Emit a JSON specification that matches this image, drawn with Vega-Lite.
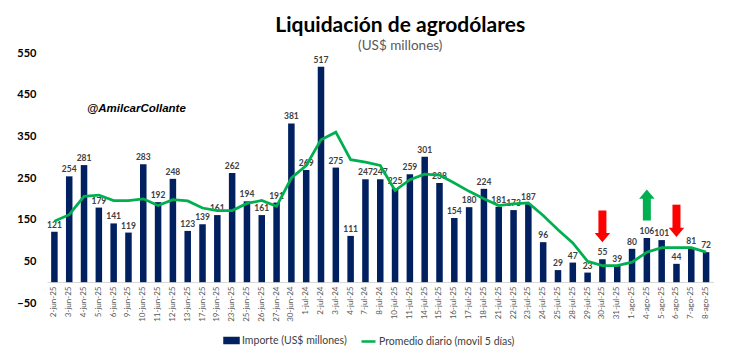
{
  "$schema": "https://vega.github.io/schema/vega-lite/v6.json",
  "width": 666.5,
  "height": 250,
  "autosize": {"type": "none"},
  "padding": {"left": 47, "top": 53, "right": 16, "bottom": 52},
  "background": "white",
  "title": {
    "text": "Liquidación de agrodólares",
    "subtitle": "(US$ millones)",
    "anchor": "middle",
    "frame": "group",
    "dx": 20,
    "offset": -5,
    "font": "Lato",
    "fontSize": 21,
    "fontWeight": "bold",
    "color": "#000000",
    "subtitleFont": "Lato",
    "subtitleFontSize": 13.5,
    "subtitleColor": "#595959",
    "subtitlePadding": 3
  },
  "data": {
    "values": [
      {"fecha": "2-jun-25", "importe": 121, "promedio": 146},
      {"fecha": "3-jun-25", "importe": 254, "promedio": 162},
      {"fecha": "4-jun-25", "importe": 281, "promedio": 206},
      {"fecha": "5-jun-25", "importe": 179, "promedio": 209},
      {"fecha": "6-jun-25", "importe": 141, "promedio": 196},
      {"fecha": "9-jun-25", "importe": 119, "promedio": 196},
      {"fecha": "10-jun-25", "importe": 283, "promedio": 200},
      {"fecha": "11-jun-25", "importe": 192, "promedio": 184},
      {"fecha": "12-jun-25", "importe": 248, "promedio": 198},
      {"fecha": "13-jun-25", "importe": 123, "promedio": 195},
      {"fecha": "17-jun-25", "importe": 139, "promedio": 178},
      {"fecha": "19-jun-25", "importe": 161, "promedio": 172},
      {"fecha": "23-jun-25", "importe": 262, "promedio": 172},
      {"fecha": "25-jun-25", "importe": 194, "promedio": 189},
      {"fecha": "26-jun-25", "importe": 161, "promedio": 196},
      {"fecha": "27-jun-24", "importe": 191, "promedio": 182},
      {"fecha": "30-jun-24", "importe": 381, "promedio": 250},
      {"fecha": "1-jul-24", "importe": 269, "promedio": 280},
      {"fecha": "2-jul-24", "importe": 517, "promedio": 342},
      {"fecha": "3-jul-24", "importe": 275, "promedio": 360},
      {"fecha": "4-jul-25", "importe": 111, "promedio": 294},
      {"fecha": "7-jul-24", "importe": 247, "promedio": 288},
      {"fecha": "8-jul-24", "importe": 247, "promedio": 280},
      {"fecha": "10-jul-25", "importe": 225, "promedio": 220},
      {"fecha": "11-jul-25", "importe": 259, "promedio": 246},
      {"fecha": "14-jul-25", "importe": 301, "promedio": 259},
      {"fecha": "15-jul-25", "importe": 238, "promedio": 257},
      {"fecha": "16-jul-25", "importe": 154, "promedio": 238},
      {"fecha": "17-jul-25", "importe": 180, "promedio": 218},
      {"fecha": "18-jul-25", "importe": 224, "promedio": 200},
      {"fecha": "21-jul-25", "importe": 181, "promedio": 184},
      {"fecha": "22-jul-25", "importe": 173, "promedio": 188},
      {"fecha": "23-jul-25", "importe": 187, "promedio": 190},
      {"fecha": "24-jul-25", "importe": 96, "promedio": 160},
      {"fecha": "25-jul-25", "importe": 29, "promedio": 126},
      {"fecha": "28-jul-25", "importe": 47, "promedio": 94},
      {"fecha": "29-jul-25", "importe": 23, "promedio": 50},
      {"fecha": "30-jul-25", "importe": 55, "promedio": 40},
      {"fecha": "31-jul-25", "importe": 39, "promedio": 40},
      {"fecha": "1-ago-25", "importe": 80, "promedio": 48},
      {"fecha": "4-ago-25", "importe": 106, "promedio": 72},
      {"fecha": "5-ago-25", "importe": 101, "promedio": 83},
      {"fecha": "6-ago-25", "importe": 44, "promedio": 83},
      {"fecha": "7-ago-25", "importe": 81, "promedio": 83},
      {"fecha": "8-ago-25", "importe": 72, "promedio": 72}
    ]
  },
  "datasets": {
    "flechas": [
      {"fecha": "30-jul-25", "tipo": "baja", "inicio": 172, "fin": 115, "cabeza": 106.8},
      {"fecha": "4-ago-25", "tipo": "sube", "inicio": 148, "fin": 202, "cabeza": 211.5},
      {"fecha": "6-ago-25", "tipo": "baja", "inicio": 186, "fin": 126, "cabeza": 119.3}
    ],
    "firma": [
      {"autor": "@AmilcarCollante"}
    ]
  },
  "encoding": {
    "x": {
      "field": "fecha",
      "type": "nominal",
      "sort": null,
      "scale": {
        "domain": ["2-jun-25","3-jun-25","4-jun-25","5-jun-25","6-jun-25","9-jun-25","10-jun-25","11-jun-25","12-jun-25","13-jun-25","17-jun-25","19-jun-25","23-jun-25","25-jun-25","26-jun-25","27-jun-24","30-jun-24","1-jul-24","2-jul-24","3-jul-24","4-jul-25","7-jul-24","8-jul-24","10-jul-25","11-jul-25","14-jul-25","15-jul-25","16-jul-25","17-jul-25","18-jul-25","21-jul-25","22-jul-25","23-jul-25","24-jul-25","25-jul-25","28-jul-25","29-jul-25","30-jul-25","31-jul-25","1-ago-25","4-ago-25","5-ago-25","6-ago-25","7-ago-25","8-ago-25"],
        "paddingInner": 0.56,
        "paddingOuter": 0.28
      },
      "axis": {
        "title": null,
        "labelAngle": -90,
        "labelFont": "Lato",
        "labelFontSize": 8,
        "labelColor": "#595959",
        "labelPadding": 4,
        "ticks": false,
        "domain": true,
        "domainColor": "#d9d9d9",
        "offset": -21,
        "grid": false
      }
    }
  },
  "layer": [
    {
      "mark": {"type": "bar"},
      "encoding": {
        "y": {
          "field": "importe",
          "type": "quantitative",
          "scale": {"domain": [-50, 550], "nice": false, "zero": false},
          "axis": {
            "title": null,
            "values": [-50, 50, 150, 250, 350, 450, 550],
            "labelFont": "Lato",
            "labelFontSize": 11,
            "labelFontWeight": "bold",
            "labelColor": "#000000",
            "labelPadding": 11,
            "ticks": false,
            "domain": false,
            "grid": false
          }
        },
        "color": {
          "datum": "Importe (US$ millones)",
          "scale": {
            "domain": ["Importe (US$ millones)", "Promedio diario (movil 5 días)"],
            "range": ["#002060", "#00B050"]
          },
          "legend": {
            "orient": "none",
            "legendX": 176,
            "legendY": 279,
            "direction": "horizontal",
            "title": null,
            "symbolSize": 196,
            "labelFont": "Lato",
            "labelFontSize": 10.5,
            "labelColor": "#404040",
            "labelOffset": 2,
            "columnPadding": 9,
            "encode": {
              "symbols": {
                "update": {
                  "shape": {"signal": "datum.value == 'Importe (US$ millones)' ? 'M-1,-0.35H1V0.35H-1Z' : 'M-1,0H1'"},
                  "fill": {"signal": "datum.value == 'Importe (US$ millones)' ? '#002060' : 'transparent'"},
                  "stroke": {"signal": "datum.value == 'Importe (US$ millones)' ? 'transparent' : '#00B050'"},
                  "strokeWidth": {"value": 2.5},
                  "opacity": {"value": 1}
                }
              }
            }
          }
        }
      }
    },
    {
      "mark": {"type": "text", "font": "Lato", "fontSize": 8.5, "fontWeight": "bold", "color": "#404040", "baseline": "alphabetic", "dy": -4},
      "encoding": {
        "y": {"field": "importe", "type": "quantitative"},
        "text": {"field": "importe", "type": "quantitative"}
      }
    },
    {
      "mark": {"type": "line", "strokeWidth": 2.75},
      "encoding": {
        "y": {"field": "promedio", "type": "quantitative"},
        "color": {"datum": "Promedio diario (movil 5 días)"}
      }
    },
    {
      "data": {"name": "flechas"},
      "mark": {"type": "bar", "size": 8},
      "encoding": {
        "y": {"field": "inicio", "type": "quantitative"},
        "y2": {"field": "fin"},
        "fill": {"field": "tipo", "type": "nominal", "scale": {"domain": ["baja", "sube"], "range": ["#FF0000", "#00B050"]}, "legend": null}
      }
    },
    {
      "data": {"name": "flechas"},
      "mark": {"type": "point", "filled": true, "size": 240, "opacity": 1},
      "encoding": {
        "y": {"field": "cabeza", "type": "quantitative"},
        "shape": {"field": "tipo", "type": "nominal", "scale": {"domain": ["baja", "sube"], "range": ["M-1,-0.6H1L0,0.6Z", "M-1,0.6H1L0,-0.6Z"]}, "legend": null},
        "fill": {"field": "tipo", "type": "nominal", "legend": null}
      }
    },
    {
      "data": {"name": "firma"},
      "mark": {"type": "text", "font": "Liberation Sans", "fontSize": 11.5, "fontWeight": "bold", "fontStyle": "italic", "color": "#000000", "align": "left", "baseline": "middle", "dx": 3},
      "encoding": {
        "x": {"datum": "4-jun-25"},
        "y": {"datum": 416},
        "text": {"field": "autor", "type": "nominal"}
      }
    }
  ],
  "config": {
    "view": {"stroke": null},
    "font": "Lato"
  }
}
